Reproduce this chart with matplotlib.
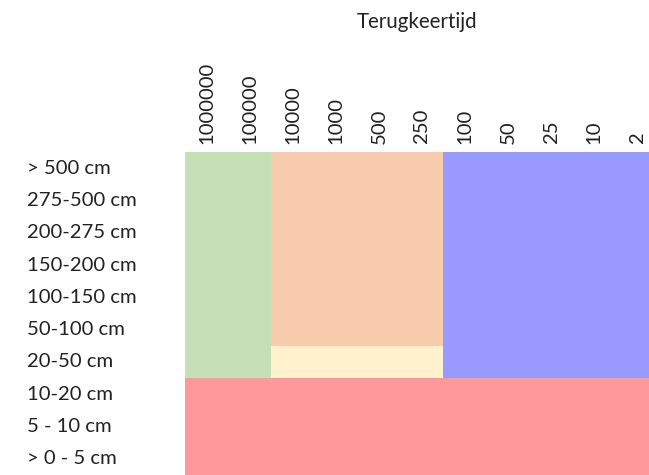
import matplotlib
matplotlib.use("Agg")
import matplotlib.pyplot as plt
from matplotlib.colors import ListedColormap
from matplotlib.transforms import blended_transform_factory
import numpy as np

plt.rcParams['font.family'] = ['Lato', 'DejaVu Sans']

return_periods = ["1000000", "100000", "10000", "1000", "500", "250", "100", "50", "25", "10", "2"]
depth_classes = ["> 500 cm", "275-500 cm", "200-275 cm", "150-200 cm", "100-150 cm",
                 "50-100 cm", "20-50 cm", "10-20 cm", "5 - 10 cm", "> 0 - 5 cm"]

# category codes: 0 green, 1 orange, 2 blue, 3 yellow, 4 red
zone_green = [0] * 2
zone_orange = [1] * 4
zone_blue = [2] * 5
row_upper = zone_green + zone_orange + zone_blue
row_2050 = zone_green + [3] * 4 + zone_blue
row_low = [4] * 11
grid = [row_upper] * 6 + [row_2050] + [row_low] * 3

colors = ["#C6DFB4", "#F8CBAD", "#9999FF", "#FFF2CC", "#FF9999"]

fig = plt.figure(figsize=(6.49, 4.75), dpi=100)
ax = fig.add_axes([185 / 649, 0, 474 / 649, (475 - 152) / 475])
cmap = ListedColormap(colors)
ax.imshow(np.array(grid), cmap=cmap, vmin=-0.5, vmax=4.5, aspect='auto',
          interpolation='nearest')
ax.set_xlim(-0.5, len(return_periods) - 0.5)
ax.set_ylim(len(depth_classes) - 0.5, -0.5)

ax.xaxis.tick_top()
ax.set_xticks(range(len(return_periods)))
ax.set_xticklabels(return_periods, rotation=90, fontsize=14.6, color="#222222")
ax.tick_params(axis='x', length=0, pad=6)
ax.set_yticks([])
for s in ax.spines.values():
    s.set_visible(False)

tr = blended_transform_factory(fig.transFigure, ax.transData)
for i, lab in enumerate(depth_classes):
    ax.text(27 / 649, i, lab, transform=tr, ha='left', va='center',
            fontsize=14.6, color="#222222")

fig.text(417 / 649, 1 - 22 / 475, "Terugkeertijd", ha='center', va='center',
         fontsize=14.8, color="#222222")

fig.savefig("out.png", dpi=100)
